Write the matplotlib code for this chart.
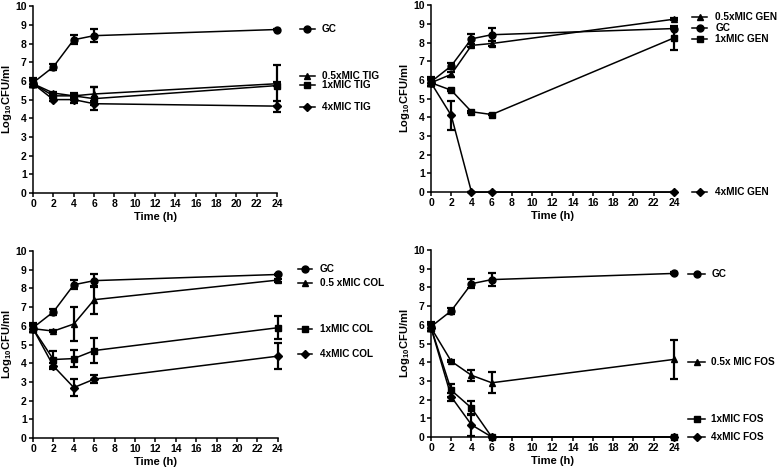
import matplotlib

matplotlib.use("Agg")
import matplotlib.pyplot as plt

plt.rcParams["font.family"] = ["Liberation Sans", "DejaVu Sans"]
plt.rcParams["font.weight"] = "bold"
plt.rcParams["mathtext.fontset"] = "custom"
plt.rcParams["mathtext.bf"] = "Liberation Sans:bold"
plt.rcParams["mathtext.rm"] = "Liberation Sans:bold"

time_h = [0, 2, 4, 6, 24]
x_ticks = list(range(0, 25, 2))
y_ticks = list(range(0, 11))

# growth control (same in all panels)
gc_mean = [5.9, 6.75, 8.2, 8.42, 8.75]
gc_err = [0.25, 0.15, 0.25, 0.35, 0.05]

# tigecycline
tig05_mean = [5.85, 5.35, 5.2, 5.3, 5.85]
tig05_err = [0.2, 0.08, 0.1, 0.35, 0.1]
tig1_mean = [5.85, 5.2, 5.2, 5.05, 5.75]
tig1_err = [0.2, 0.1, 0.15, 0.6, 1.1]
tig4_mean = [5.85, 5.0, 5.0, 4.78, 4.65]
tig4_err = [0.2, 0.08, 0.2, 0.08, 0.3]

# gentamicin
gen05_mean = [5.85, 6.3, 7.85, 7.95, 9.25]
gen05_err = [0.2, 0.15, 0.1, 0.15, 0.05]
gen1_mean = [5.85, 5.45, 4.3, 4.15, 8.25]
gen1_err = [0.2, 0.05, 0.05, 0.05, 0.65]
gen4_mean = [5.85, 4.1, 0.0, 0.0, 0.0]
gen4_err = [0.2, 0.8, 0.0, 0.0, 0.0]

# colistin
col05_mean = [5.85, 5.72, 6.1, 7.4, 8.45]
col05_err = [0.2, 0.05, 0.9, 0.75, 0.08]
col1_mean = [5.85, 4.2, 4.25, 4.68, 5.9]
col1_err = [0.2, 0.45, 0.45, 0.65, 0.62]
col4_mean = [5.85, 3.85, 2.7, 3.15, 4.38]
col4_err = [0.2, 0.15, 0.45, 0.2, 0.7]

# fosfomycin
fos05_mean = [5.85, 4.05, 3.3, 2.9, 4.15]
fos05_err = [0.2, 0.05, 0.3, 0.55, 1.05]
fos1_mean = [5.85, 2.5, 1.55, 0.0, 0.0]
fos1_err = [0.2, 0.35, 0.35, 0.0, 0.0]
fos4_mean = [5.85, 2.15, 0.65, 0.0, 0.0]
fos4_err = [0.2, 0.2, 0.6, 0.0, 0.0]

panels = [
    ([0.0425, 0.591, 0.314, 0.396], [
        ("GC", "o", gc_mean, gc_err, 8.77),
        ("0.5xMIC TIG", "^", tig05_mean, tig05_err, 6.26),
        ("1xMIC TIG", "s", tig1_mean, tig1_err, 5.78),
        ("4xMIC TIG", "D", tig4_mean, tig4_err, 4.6),
    ], (26.3, 27.7, 28.4)),
    ([0.5547, 0.593, 0.3127, 0.396], [
        ("0.5xMIC GEN", "^", gen05_mean, gen05_err, 9.36),
        ("GC", "o", gc_mean, gc_err, 8.77),
        ("1xMIC GEN", "s", gen1_mean, gen1_err, 8.18),
        ("4xMIC GEN", "D", gen4_mean, gen4_err, 0.0),
    ], (25.8, 27.3, 28.1)),
    ([0.0425, 0.072, 0.315, 0.396], [
        ("GC", "o", gc_mean, gc_err, 9.02),
        ("0.5 xMIC COL", "^", col05_mean, col05_err, 8.31),
        ("1xMIC COL", "s", col1_mean, col1_err, 5.85),
        ("4xMIC COL", "D", col4_mean, col4_err, 4.48),
    ], (26.0, 27.4, 28.1)),
    ([0.5547, 0.0742, 0.3127, 0.396], [
        ("GC", "o", gc_mean, gc_err, 8.74),
        ("0.5x MIC FOS", "^", fos05_mean, fos05_err, 3.99),
        ("1xMIC FOS", "s", fos1_mean, fos1_err, 0.96),
        ("4xMIC FOS", "D", fos4_mean, fos4_err, 0.02),
    ], (25.4, 27.1, 27.7)),
]

fig = plt.figure(figsize=(7.77, 4.72), dpi=100)
for rect, series, (lx0, lx1, tx) in panels:
    ax = fig.add_axes(rect)
    for label, marker, mean, err, ly in series:
        ms = 4 if marker == "D" else 5
        ax.errorbar(time_h, mean, yerr=err, color="black", marker=marker, ms=ms,
                    lw=1.1, elinewidth=1.6, capsize=3, capthick=1.6, clip_on=False,
                    zorder=3)
        ax.plot([lx0, lx1], [ly, ly], color="black", lw=1.1, clip_on=False)
        ax.plot([(lx0 + lx1) / 2], [ly], color="black", marker=marker, ms=ms,
                clip_on=False)
        ax.text(tx, ly, label, fontsize=7.2, fontweight="bold", va="center",
                ha="left", clip_on=False)
    ax.set_xlim(0, 24)
    ax.set_ylim(0, 10)
    ax.set_xticks(x_ticks)
    ax.set_yticks(y_ticks)
    ax.spines["top"].set_visible(False)
    ax.spines["right"].set_visible(False)
    ax.spines["left"].set_linewidth(1.1)
    ax.spines["bottom"].set_linewidth(1.1)
    ax.tick_params(direction="out", length=3, width=1.1, labelsize=7.5, pad=1.5)
    ax.set_xlabel("Time (h)", fontsize=8, fontweight="bold", labelpad=2)
    ax.set_ylabel(r"Log$_{\mathbf{10}}$CFU/ml", fontsize=8, fontweight="bold",
                  va="center")
    ax.yaxis.set_label_coords(-0.105, 0.5)

fig.savefig("out.png", dpi=100)
